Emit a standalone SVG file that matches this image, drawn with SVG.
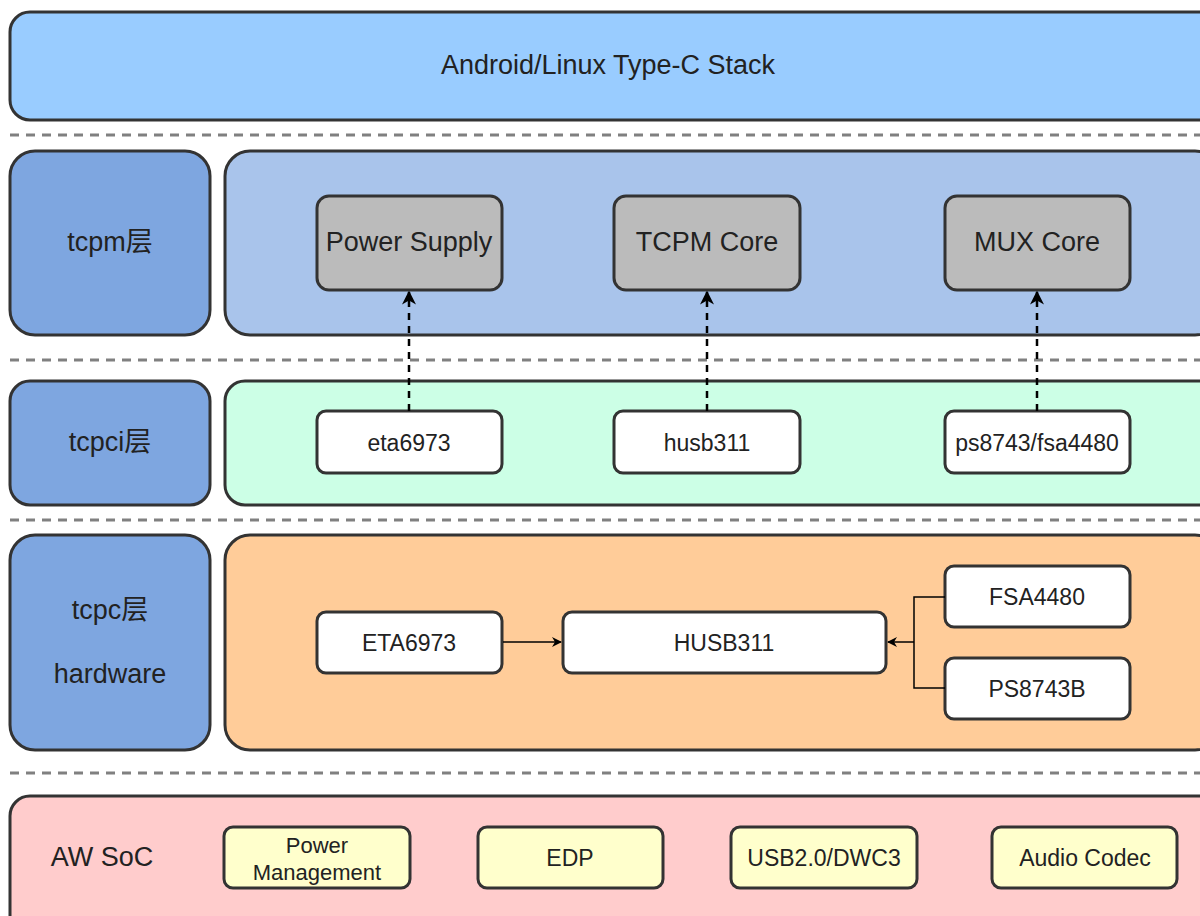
<svg xmlns="http://www.w3.org/2000/svg" width="1200" height="916" viewBox="0 0 1200 916">
<style>
.b{stroke:#333;stroke-width:3}
.t{font-family:"Liberation Sans",Arial,"Noto Sans CJK SC",sans-serif;fill:#222;text-anchor:middle;dominant-baseline:central}
.sep{stroke:#808080;stroke-width:3;stroke-dasharray:9,7;fill:none}
.w{fill:#fff}
.g{fill:#bbbbbb}
.y{fill:#ffffcc}
</style>
<defs>
<marker id="ah" viewBox="0 0 10 10" refX="9" refY="5" markerWidth="10" markerHeight="10" markerUnits="userSpaceOnUse" orient="auto">
<path d="M0,0 L10,5 L0,10 L3,5 Z" fill="#000"/>
</marker>
<marker id="ah2" viewBox="0 0 10 10" refX="9" refY="5" markerWidth="14" markerHeight="14" markerUnits="userSpaceOnUse" orient="auto">
<path d="M0,0 L10,5 L0,10 L3,5 Z" fill="#000"/>
</marker>
</defs>
<rect width="1200" height="916" fill="#fff"/>
<g id="separators">
<line class="sep" x1="10" y1="135" x2="1200" y2="135"/>
<line class="sep" x1="10" y1="360" x2="1200" y2="360"/>
<line class="sep" x1="10" y1="520" x2="1200" y2="520"/>
<line class="sep" x1="10" y1="773" x2="1200" y2="773"/>
</g>
<g id="stack"><rect class="b" x="10" y="12" width="1210" height="108" rx="20" fill="#99ccff"/><text class="t" x="608" y="65" font-size="27">Android/Linux Type-C Stack</text></g>
<g id="tcpm-label"><rect class="b" x="10" y="151" width="200" height="184" rx="25" fill="#7ea6e0"/><text class="t" x="110" y="242" font-size="27">tcpm层</text></g>
<g id="tcpm-area"><rect class="b" x="225" y="151" width="995" height="184" rx="25" fill="#a9c4eb"/></g>
<g id="power-supply"><rect class="b g" x="317" y="196" width="185" height="94" rx="12"/><text class="t" x="409" y="242" font-size="27">Power Supply</text></g>
<g id="tcpm-core"><rect class="b g" x="614" y="196" width="186" height="94" rx="12"/><text class="t" x="707" y="242" font-size="27">TCPM Core</text></g>
<g id="mux-core"><rect class="b g" x="945" y="196" width="185" height="94" rx="12"/><text class="t" x="1037" y="242" font-size="27">MUX Core</text></g>
<g id="tcpci-label"><rect class="b" x="10" y="381" width="200" height="124" rx="20" fill="#7ea6e0"/><text class="t" x="110" y="442" font-size="27">tcpci层</text></g>
<g id="tcpci-area"><rect class="b" x="225" y="381" width="995" height="124" rx="20" fill="#ccffe6"/></g>
<g id="eta6973"><rect class="b w" x="317" y="411" width="185" height="62" rx="9"/><text class="t" x="409" y="443" font-size="23">eta6973</text></g>
<g id="husb311"><rect class="b w" x="614" y="411" width="186" height="62" rx="9"/><text class="t" x="707" y="443" font-size="23">husb311</text></g>
<g id="ps8743-fsa4480"><rect class="b w" x="945" y="411" width="185" height="62" rx="9"/><text class="t" x="1037" y="443" font-size="23">ps8743/fsa4480</text></g>
<g id="tcpc-label"><rect class="b" x="10" y="535" width="200" height="215" rx="25" fill="#7ea6e0"/><text class="t" x="110" y="610" font-size="27">tcpc层</text><text class="t" x="110" y="674" font-size="27">hardware</text></g>
<g id="tcpc-area"><rect class="b" x="225" y="535" width="995" height="215" rx="25" fill="#ffcc99"/></g>
<g id="ETA6973"><rect class="b w" x="317" y="612" width="185" height="61" rx="9"/><text class="t" x="409" y="643" font-size="23">ETA6973</text></g>
<g id="HUSB311"><rect class="b w" x="563" y="612" width="323" height="61" rx="9"/><text class="t" x="724" y="643" font-size="23">HUSB311</text></g>
<g id="FSA4480"><rect class="b w" x="945" y="566" width="185" height="61" rx="9"/><text class="t" x="1037" y="597" font-size="23">FSA4480</text></g>
<g id="PS8743B"><rect class="b w" x="945" y="658" width="185" height="61" rx="9"/><text class="t" x="1037" y="689" font-size="23">PS8743B</text></g>
<g id="soc"><rect class="b" x="10" y="796" width="1210" height="140" rx="20" fill="#ffcccc"/><text class="t" x="102" y="857" font-size="27">AW SoC</text></g>
<g id="power-management"><rect class="b y" x="224" y="827" width="186" height="61" rx="9"/><text class="t" x="317" y="845" font-size="22">Power</text><text class="t" x="317" y="872" font-size="22">Management</text></g>
<g id="edp"><rect class="b y" x="478" y="827" width="185" height="61" rx="9"/><text class="t" x="570" y="858" font-size="23">EDP</text></g>
<g id="usb"><rect class="b y" x="731" y="827" width="186" height="61" rx="9"/><text class="t" x="824" y="858" font-size="23">USB2.0/DWC3</text></g>
<g id="audio-codec"><rect class="b y" x="992" y="827" width="185" height="61" rx="9"/><text class="t" x="1085" y="858" font-size="23">Audio Codec</text></g>
<g id="connectors" fill="none">
<line x1="409" y1="411" x2="409" y2="292" stroke="#000" stroke-width="2.5" stroke-dasharray="7,6" marker-end="url(#ah2)"/>
<line x1="707" y1="411" x2="707" y2="292" stroke="#000" stroke-width="2.5" stroke-dasharray="7,6" marker-end="url(#ah2)"/>
<line x1="1037" y1="411" x2="1037" y2="292" stroke="#000" stroke-width="2.5" stroke-dasharray="7,6" marker-end="url(#ah2)"/>
<line x1="503" y1="642" x2="561" y2="642" stroke="#000" stroke-width="1.5" marker-end="url(#ah)"/>
<polyline points="945,597 914,597 914,688 945,688" stroke="#000" stroke-width="1.5"/>
<line x1="914" y1="642" x2="888" y2="642" stroke="#000" stroke-width="1.5" marker-end="url(#ah)"/>
</g>
</svg>
